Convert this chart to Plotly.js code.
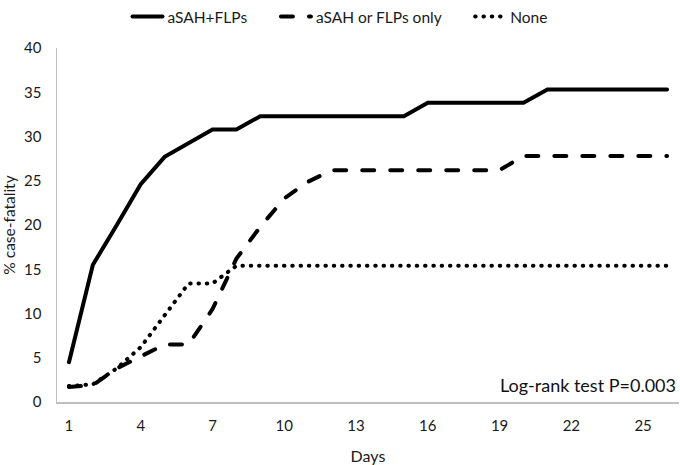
<!DOCTYPE html>
<html>
<head>
<meta charset="utf-8">
<script src="https://cdn.plot.ly/plotly-3.0.1.min.js"></script>
<style>
  html, body { margin: 0; padding: 0; background: #fff; }
  #chart { width: 680px; height: 465px; }
  .scatterlayer path.js-line { stroke-linecap: round; }
  .legend path.js-line { stroke-linecap: round; }
</style>
</head>
<body>
<div id="chart"></div>
<script>
const days = [1,2,3,4,5,6,7,8,9,10,11,12,13,14,15,16,17,18,19,20,21,22,23,24,25,26];
const xTicks = [1,4,7,10,13,16,19,22,25];
const seriesNames = ["aSAH+FLPs", "aSAH or FLPs only", "None"];
const both = [4.5,15.5,20.0,24.6,27.7,29.2,30.8,30.8,32.3,32.3,32.3,32.3,32.3,32.3,32.3,33.8,33.8,33.8,33.8,33.8,35.3,35.3,35.3,35.3,35.3,35.3];
const eitherOnly = [1.7,1.9,3.8,5.2,6.5,6.5,10.5,16.2,19.8,23.0,24.9,26.2,26.2,26.2,26.2,26.2,26.2,26.2,26.2,27.8,27.8,27.8,27.8,27.8,27.8,27.8];
const none = [1.8,2.0,3.8,6.2,9.8,13.4,13.4,15.4,15.4,15.4,15.4,15.4,15.4,15.4,15.4,15.4,15.4,15.4,15.4,15.4,15.4,15.4,15.4,15.4,15.4,15.4];
const annotationText = "Log-rank test P=0.003";

const FONT = "Lato, 'Liberation Sans', sans-serif";
const INK = "#1a1a1a";
const PAD = "\u00a0\u00a0\u00a0\u00a0\u00a0\u00a0";
const traces = [
  {x: days, y: both, name: seriesNames[0] + PAD, mode: "lines", line: {color: "#000", width: 4, dash: "solid"}},
  {x: days, y: eitherOnly, name: seriesNames[1] + PAD, mode: "lines", line: {color: "#000", width: 4, dash: "12px,16px"}},
  {x: days, y: none, name: seriesNames[2], mode: "lines", line: {color: "#000", width: 4, dash: "0.5px,7.8px"}}
];

const layout = {
  width: 680, height: 465,
  margin: {l: 57, r: 1, t: 48, b: 63},
  paper_bgcolor: "#fff", plot_bgcolor: "#fff",
  font: {family: FONT, size: 15, color: INK},
  showlegend: true,
  legend: {
    orientation: "h", xref: "container", yref: "container",
    x: 0.5, xanchor: "center", y: 1, yanchor: "top",
    font: {family: FONT, size: 15.5, color: INK},
    itemwidth: 30, tracegroupgap: 0, bgcolor: "rgba(0,0,0,0)"
  },
  xaxis: {
    range: [0.5, 26.5], tickvals: xTicks, ticktext: xTicks.map(String),
    showgrid: false, zeroline: false, showline: true, linecolor: "#bfbfbf", linewidth: 1.5,
    ticks: "", ticklabelstandoff: 9,
    tickfont: {family: FONT, size: 15, color: INK},
    title: {text: "Days", standoff: 20, font: {family: FONT, size: 16, color: INK}},
    fixedrange: true
  },
  yaxis: {
    range: [0, 40], dtick: 5, tick0: 0,
    showgrid: false, zeroline: false, showline: true, linecolor: "#bfbfbf", linewidth: 1.5,
    ticks: "", ticklabelstandoff: 11,
    tickfont: {family: FONT, size: 15, color: INK},
    title: {text: "% case-fatality", standoff: 6, font: {family: FONT, size: 15.5, color: INK}},
    fixedrange: true
  },
  annotations: [{
    text: annotationText, xref: "paper", yref: "paper", x: 0.998, y: 0.048,
    xanchor: "right", yanchor: "middle", showarrow: false,
    font: {family: FONT, size: 18, color: "#111"}
  }]
};

Plotly.newPlot("chart", traces, layout, {displayModeBar: false, staticPlot: true});
</script>
</body>
</html>
